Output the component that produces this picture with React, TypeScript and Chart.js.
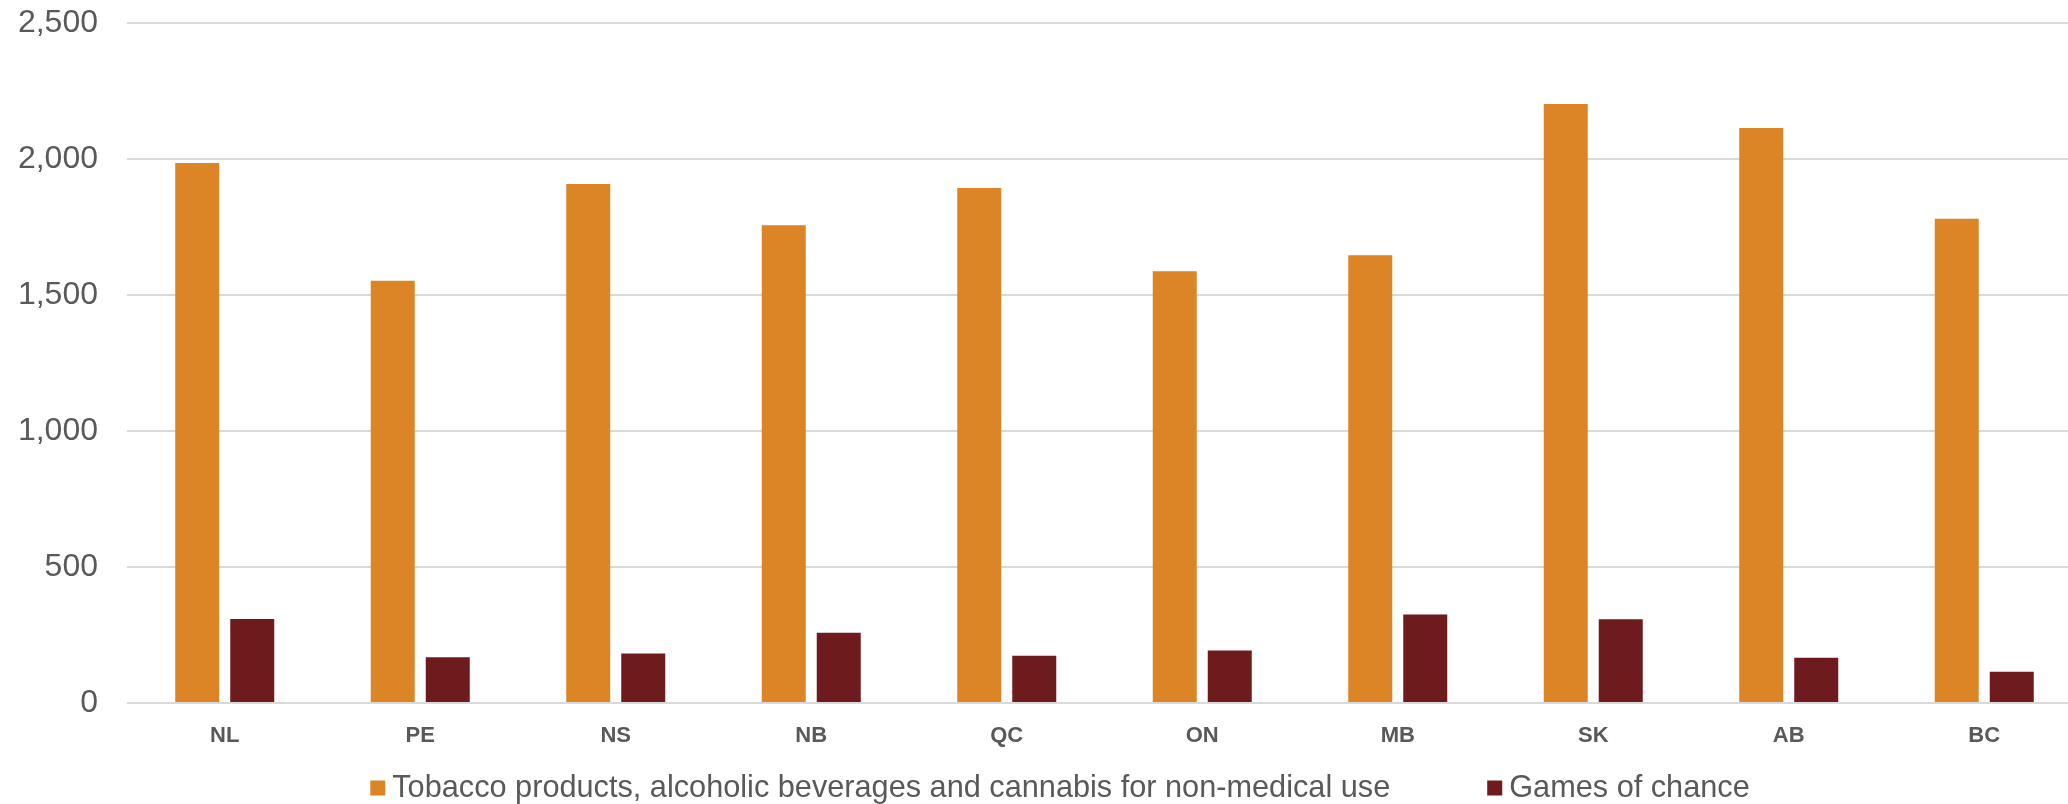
import React, { useEffect, useRef } from "react";
import { Chart, registerables } from "chart.js";

Chart.register(...registerables);

const provinces = ["NL", "PE", "NS", "NB", "QC", "ON", "MB", "SK", "AB", "BC"];
const tobaccoAlcoholCannabis = [1985, 1552, 1908, 1756, 1893, 1587, 1646, 2202, 2114, 1780];
const gamesOfChance = [309, 168, 182, 258, 174, 193, 325, 308, 166, 115];
const yTickValues = [0, 500, 1000, 1500, 2000, 2500];
const seriesLabels = [
  "Tobacco products, alcoholic beverages and cannabis for non-medical use",
  "Games of chance",
];
const seriesColors = ["#DB8526", "#6E1B1E"];

const TEXT = "#595959";
const FONT = "'Liberation Sans', Arial, sans-serif";

const bottomLegend = {
  id: "bottomLegend",
  afterDraw(chart: any) {
    const ctx = chart.ctx;
    ctx.save();
    ctx.font = `30.7px ${FONT}`;
    ctx.textBaseline = "middle";
    const box = 15;
    const gap = 7;
    const itemGap = 97;
    const items = chart.data.datasets.map((d: any) => ({
      text: d.label,
      color: d.backgroundColor,
      w: ctx.measureText(d.label).width,
    }));
    const total =
      items.reduce((s: number, it: any) => s + box + gap + it.w, 0) +
      itemGap * (items.length - 1);
    let x = chart.width / 2 - total / 2;
    const y = chart.chartArea.bottom + 85;
    items.forEach((it: any) => {
      ctx.fillStyle = it.color;
      ctx.fillRect(x, y - box / 2, box, box);
      x += box + gap;
      ctx.fillStyle = TEXT;
      ctx.fillText(it.text, x, y + 1);
      x += it.w + itemGap;
    });
    ctx.restore();
  },
};

export default function App() {
  const canvasRef = useRef<HTMLCanvasElement | null>(null);

  useEffect(() => {
    document.documentElement.style.overflow = "hidden";
    document.body.style.overflow = "hidden";
    const canvas = canvasRef.current;
    if (!canvas) return;
    const chart = new Chart(canvas, {
      type: "bar",
      data: {
        labels: provinces,
        datasets: [
          {
            label: seriesLabels[0],
            data: tobaccoAlcoholCannabis,
            backgroundColor: seriesColors[0],
            borderWidth: 0,
            categoryPercentage: 0.5627,
            barPercentage: 0.8,
          },
          {
            label: seriesLabels[1],
            data: gamesOfChance,
            backgroundColor: seriesColors[1],
            borderWidth: 0,
            categoryPercentage: 0.5627,
            barPercentage: 0.8,
          },
        ],
      },
      options: {
        responsive: false,
        animation: false,
        layout: { padding: { top: 23, right: 38, bottom: 0, left: 0 } },
        plugins: {
          legend: { display: false },
          tooltip: { enabled: false },
        },
        scales: {
          x: {
            grid: { display: false },
            border: { display: false },
            ticks: {
              color: TEXT,
              font: { family: FONT, size: 22, weight: "bold" },
              padding: 12,
              maxRotation: 0,
            },
            afterFit: (s: any) => {
              s.height = 101;
            },
          },
          y: {
            min: yTickValues[0],
            max: yTickValues[yTickValues.length - 1],
            afterBuildTicks: (s: any) => {
              s.ticks = yTickValues.map((v) => ({ value: v }));
            },
            grid: {
              color: "#D9D9D9",
              lineWidth: 2,
              drawTicks: true,
              tickLength: 29,
              tickColor: "rgba(0,0,0,0)",
            },
            border: { display: false },
            ticks: {
              color: TEXT,
              font: { family: FONT, size: 32 },
              padding: 0,
              callback: (v: any) => Number(v).toLocaleString("en-US"),
            },
            afterFit: (s: any) => {
              s.width = 127;
            },
          },
        },
      },
      plugins: [bottomLegend],
    });
    return () => chart.destroy();
  }, []);

  return (
    <div
      style={{
        position: "fixed",
        left: 0,
        top: 0,
        width: 2120,
        height: 804,
        background: "#ffffff",
      }}
    >
      <canvas ref={canvasRef} width={2120} height={804} style={{ display: "block" }} />
    </div>
  );
}
